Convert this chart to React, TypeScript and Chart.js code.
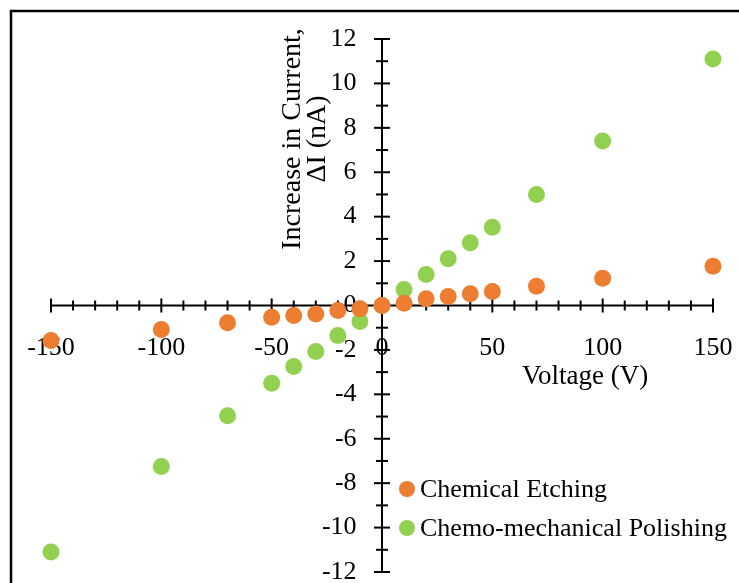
import React, { useEffect, useRef } from 'react';
import { Chart, registerables } from 'chart.js';

Chart.register(...registerables);

// ---- data ----
const voltages = [-150, -100, -70, -50, -40, -30, -20, -10, 0, 10, 20, 30, 40, 50, 70, 100, 150];
const etching = [-1.58, -1.08, -0.78, -0.53, -0.45, -0.38, -0.23, -0.15, 0, 0.1, 0.3, 0.41, 0.53, 0.63, 0.87, 1.23, 1.77];
const polishing = [-11.1, -7.25, -4.96, -3.5, -2.75, -2.07, -1.35, -0.72, 0, 0.72, 1.4, 2.1, 2.83, 3.52, 5.0, 7.41, 11.1];
const seriesLabels = ['Chemical Etching', 'Chemo-mechanical Polishing'];
const xTitle = 'Voltage (V)';
const yTitleLines = ['Increase in Current,', 'ΔI (nA)'];
const xRange = [-150, 150];
const yRange = [-12, 12];
const xMajorStep = 50;
const xMinorStep = 10;
const yMajorStep = 2;
const yMinorStep = 1;

// ---- styles ----
const seriesColors = ['#ED7D31', '#92D050'];
const FONT = '"Liberation Serif", "Times New Roman", serif';
const FONT_SIZE = 26;

const isMajor = (v: number, step: number) => Math.abs(Math.round(v) % step) === 0;

const crossAxesPlugin = {
  id: 'crossAxes',
  beforeDatasetsDraw(chart: any) {
    const { ctx } = chart;
    const xs = chart.scales.x;
    const ys = chart.scales.y;
    const x0 = xs.getPixelForValue(0);
    const y0 = ys.getPixelForValue(0);
    ctx.save();
    ctx.strokeStyle = '#000';
    ctx.lineWidth = 2;
    ctx.lineCap = 'butt';
    // x axis line
    ctx.beginPath();
    ctx.moveTo(xs.getPixelForValue(xs.min), y0);
    ctx.lineTo(xs.getPixelForValue(xs.max), y0);
    ctx.stroke();
    // y axis line
    ctx.beginPath();
    ctx.moveTo(x0, ys.getPixelForValue(ys.max));
    ctx.lineTo(x0, ys.getPixelForValue(ys.min));
    ctx.stroke();
    // x ticks (crossing)
    xs.ticks.forEach((t: any) => {
      const px = xs.getPixelForValue(t.value);
      const h = isMajor(t.value, xMajorStep) ? 7 : 5;
      ctx.beginPath();
      ctx.moveTo(px, y0 - h);
      ctx.lineTo(px, y0 + h);
      ctx.stroke();
    });
    // y ticks (crossing)
    ys.ticks.forEach((t: any) => {
      const py = ys.getPixelForValue(t.value);
      const h = isMajor(t.value, yMajorStep) ? 8 : 6;
      ctx.beginPath();
      ctx.moveTo(x0 - h, py);
      ctx.lineTo(x0 + h, py);
      ctx.stroke();
    });
    ctx.restore();
  },
  afterDraw(chart: any) {
    const { ctx } = chart;
    const xs = chart.scales.x;
    const ys = chart.scales.y;
    ctx.save();
    // outer frame
    ctx.strokeStyle = '#000';
    ctx.lineWidth = 2.5;
    ctx.strokeRect(11, 11, 800, 700);

    ctx.fillStyle = '#000';
    // x title
    ctx.font = `27px ${FONT}`;
    ctx.textAlign = 'center';
    ctx.textBaseline = 'alphabetic';
    ctx.fillText(xTitle, xs.getPixelForValue(92), ys.getPixelForValue(-3.52));

    // y title (rotated)
    ctx.font = `28px ${FONT}`;
    const cy = ys.getPixelForValue(7.5);
    const baseX = [300, 325];
    yTitleLines.forEach((line, i) => {
      ctx.save();
      ctx.translate(baseX[i], cy);
      ctx.rotate(-Math.PI / 2);
      ctx.textAlign = 'center';
      ctx.textBaseline = 'alphabetic';
      ctx.fillText(line, 0, 0);
      ctx.restore();
    });

    // legend
    ctx.font = `${FONT_SIZE}px ${FONT}`;
    const legendX = 407;
    const legendY = [489, 528];
    chart.data.datasets.forEach((ds: any, i: number) => {
      ctx.beginPath();
      ctx.fillStyle = ds.backgroundColor;
      ctx.arc(legendX, legendY[i], 8, 0, Math.PI * 2);
      ctx.fill();
      ctx.fillStyle = '#000';
      ctx.textAlign = 'left';
      ctx.textBaseline = 'middle';
      ctx.fillText(ds.label, legendX + 13, legendY[i] + 1);
    });
    ctx.restore();
  },
};

export default function App() {
  const canvasRef = useRef<HTMLCanvasElement | null>(null);

  useEffect(() => {
    if (!canvasRef.current) return;
    const tickFont = { family: FONT, size: FONT_SIZE };
    const zeroPadding = (s: any) => {
      s.paddingLeft = 0;
      s.paddingRight = 0;
      s.paddingTop = 0;
      s.paddingBottom = 0;
    };
    const chart = new Chart(canvasRef.current, {
      type: 'scatter',
      data: {
        datasets: [
          {
            label: seriesLabels[0],
            data: voltages.map((v, i) => ({ x: v, y: etching[i] })),
            backgroundColor: seriesColors[0],
            borderColor: seriesColors[0],
            pointRadius: 8.5,
            pointBorderWidth: 0,
            clip: false as any,
          },
          {
            label: seriesLabels[1],
            data: voltages.map((v, i) => ({ x: v, y: polishing[i] })),
            backgroundColor: seriesColors[1],
            borderColor: seriesColors[1],
            pointRadius: 8.5,
            pointBorderWidth: 0,
            clip: false as any,
          },
        ],
      },
      options: {
        responsive: false,
        animation: false,
        events: [],
        layout: { padding: { left: 51, right: 26, top: 39, bottom: 11 } },
        plugins: { legend: { display: false }, tooltip: { enabled: false } },
        scales: {
          x: {
            type: 'linear',
            position: { y: 0 } as any,
            min: xRange[0],
            max: xRange[1],
            z: 1,
            grid: { display: false, drawTicks: false },
            border: { display: false },
            ticks: {
              stepSize: xMinorStep,
              autoSkip: false,
              maxRotation: 0,
              minRotation: 0,
              padding: 27,
              color: '#000',
              font: tickFont,
              callback: (v: any) => (isMajor(Number(v), xMajorStep) ? String(v) : ''),
            },
            afterFit: zeroPadding,
          },
          y: {
            type: 'linear',
            // labels sit a little left of the vertical axis (x = 0), which the plugin draws
            position: { x: -11.5 } as any,
            min: yRange[0],
            max: yRange[1],
            z: 1,
            grid: { display: false, drawTicks: false },
            border: { display: false },
            ticks: {
              stepSize: yMinorStep,
              autoSkip: false,
              color: '#000',
              font: tickFont,
              callback: (v: any) => (isMajor(Number(v), yMajorStep) ? String(v) : ''),
            },
            afterFit: zeroPadding,
          },
        },
      },
      plugins: [crossAxesPlugin],
    });
    return () => chart.destroy();
  }, []);

  return (
    <div style={{ position: 'absolute', left: 0, top: 0, width: 739, height: 583, background: '#fff' }}>
      <canvas ref={canvasRef} width={739} height={583} style={{ display: 'block' }} />
    </div>
  );
}
